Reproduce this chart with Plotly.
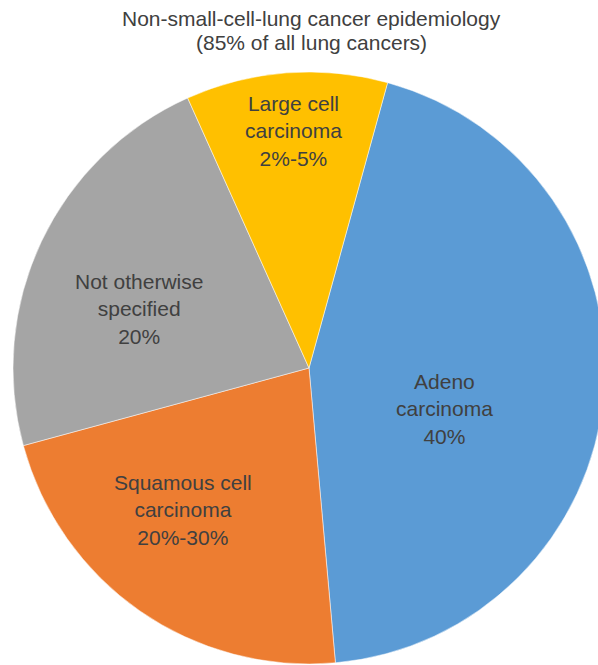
import plotly.graph_objects as go

categories = ["Adeno carcinoma", "Squamous cell carcinoma", "Not otherwise specified", "Large cell carcinoma"]
values = [44.3, 22.2, 22.5, 11.0]
labels_text = ["Adeno<br>carcinoma<br>40%", "Squamous cell<br>carcinoma<br>20%-30%",
               "Not otherwise<br>specified<br>20%", "Large cell<br>carcinoma<br>2%-5%"]
colors = ["#5B9BD5", "#ED7D31", "#A5A5A5", "#FFC000"]
title_lines = ["Non-small-cell-lung cancer epidemiology", "(85% of all lung cancers)"]

# label anchor positions in pixels (layout only)
label_pos = [(444, 409), (183, 510), (139, 309), (293, 131)]
title_pos = [(311, 18), (311, 43)]

W, H = 620, 665
FONT = "Liberation Sans, Arial, sans-serif"
fig = go.Figure(go.Pie(
    labels=categories, values=values,
    textinfo="none",
    sort=False, direction="clockwise", rotation=15.4,
    marker=dict(colors=colors, line=dict(color="white", width=0.5)),
    hoverinfo="label", showlegend=False,
    domain=dict(x=[13 / W, 605 / W], y=[(H - 664) / H, (H - 72) / H]),
))
for txt, (px, py) in zip(labels_text, label_pos):
    fig.add_annotation(
        text=txt, x=px / W, y=1 - py / H, xref="paper", yref="paper",
        xanchor="center", yanchor="middle", showarrow=False, align="center",
        font=dict(family=FONT, size=21, color="#404040"),
    )
for txt, (px, py) in zip(title_lines, title_pos):
    fig.add_annotation(
        text=txt, x=px / W, y=1 - py / H, xref="paper", yref="paper",
        xanchor="center", yanchor="middle", showarrow=False,
        font=dict(family=FONT, size=21, color="#404040"),
    )
fig.update_layout(
    width=W, height=H, autosize=False,
    margin=dict(l=0, r=0, t=0, b=0),
    paper_bgcolor="white", plot_bgcolor="white",
)
fig.write_html("out.html", post_script="document.body.style.overflow='hidden';document.documentElement.style.overflow='hidden';")
